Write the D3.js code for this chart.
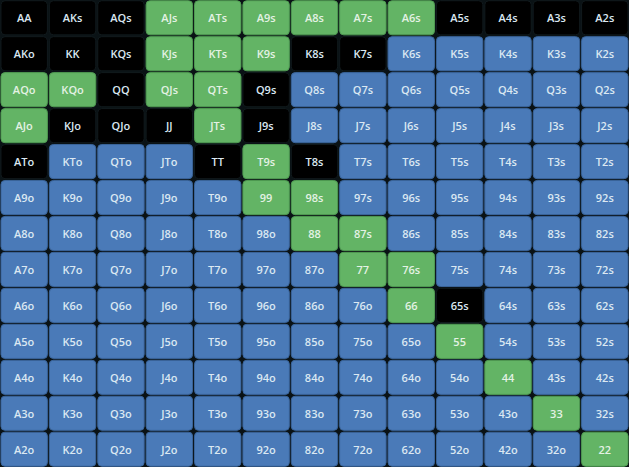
<!DOCTYPE html>
<html><head><meta charset="utf-8">
<script src="https://cdn.jsdelivr.net/npm/d3@7"></script>
<style>body{margin:0;background:#0a1215;}text{font-family:"Open Sans",sans-serif;font-weight:600;}</style>
</head><body><svg id="vis" width="629" height="467"></svg>
<script>
var ranks = ['A','K','Q','J','T','9','8','7','6','5','4','3','2'];
// action per cell: r = raise (green), c = call/black, f = fold (blue)
var actionRows = [
  'cccrrrrrrcccc',
  'cccrrrccfffff',
  'rrcrrcfffffff',
  'rcccrcfffffff',
  'cfffcrcffffff',
  'fffffrrffffff',
  'ffffffrrfffff',
  'fffffffrrffff',
  'ffffffffrcfff',
  'fffffffffrfff',
  'ffffffffffrff',
  'fffffffffffrf',
  'ffffffffffffr'
];
var colors = {r: '#63b465', c: '#000000', f: '#4a7ab8'};
var strokes = {r: '#4f9a52', c: '#111a1d', f: '#3a649a'};

var cells = [];
ranks.forEach(function(r1, i) {
  ranks.forEach(function(r2, j) {
    var label = i === j ? r1 + r2 : (j > i ? r1 + r2 + 's' : r2 + r1 + 'o');
    cells.push({row: i, col: j, label: label, act: actionRows[i][j]});
  });
});

var x = d3.scaleBand().domain(d3.range(13)).range([0, 629]).paddingInner(0.04).paddingOuter(0.02);
var y = d3.scaleBand().domain(d3.range(13)).range([0, 467]).paddingInner(0.05).paddingOuter(0.02);

var svg = d3.select('#vis');
var g = svg.selectAll('g.cell').data(cells).enter().append('g')
  .attr('transform', function(d) { return 'translate(' + x(d.col) + ',' + y(d.row) + ')'; });

g.append('rect')
  .attr('width', x.bandwidth()).attr('height', y.bandwidth())
  .attr('rx', 4).attr('ry', 4)
  .attr('fill', function(d) { return colors[d.act]; })
  .attr('stroke', function(d) { return strokes[d.act]; })
  .attr('stroke-width', 1);

g.append('text')
  .attr('x', x.bandwidth() / 2).attr('y', y.bandwidth() / 2)
  .attr('text-anchor', 'middle').attr('dominant-baseline', 'central')
  .attr('font-size', 11)
  .attr('fill', function(d) { return d.act === 'r' ? '#e4f2e4' : '#dbe8f2'; })
  .text(function(d) { return d.label; });
</script></body></html>
